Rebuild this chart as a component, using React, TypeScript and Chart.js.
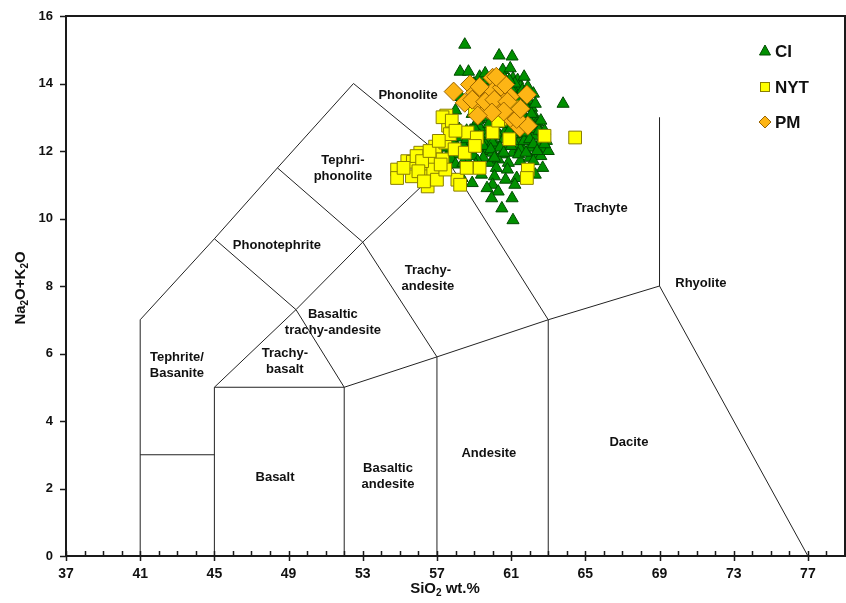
import React, { useEffect, useRef } from 'react';
import { Chart, registerables } from 'chart.js';

Chart.register(...registerables);

// ---- axis definitions ----
const xMin = 37;
const xMax = 79;
const xMajorStep = 4;
const yMin = 0;
const yMax = 16;
const yStep = 2;

// ---- series (SiO2 wt.%, Na2O+K2O) ----
const ciPoints: [number, number][] = [
  [58.5, 15.15], [60.35, 14.83], [61.05, 14.8], [58.25, 14.35], [58.7, 14.35], [59.3, 14.2],
  [60.55, 14.4], [60.95, 14.45], [61.1, 14.15], [61.35, 14.1], [61.5, 13.9], [62.0, 13.45],
  [62.1, 13.28], [62.3, 13.0], [62.4, 12.85], [60.8, 13.9], [60.65, 14.15], [63.8, 13.4],
  [59.6, 14.3], [59.9, 14.05], [60.2, 13.95], [61.2, 13.75], [61.6, 13.6], [61.8, 13.3],
  [61.4, 13.4], [60.9, 13.2], [61.7, 13.05], [62.0, 12.9], [59.0, 14.0], [58.9, 13.1],
  [59.3, 12.95], [59.5, 13.0], [58.6, 12.6], [61.9, 12.6], [62.5, 12.55], [62.6, 12.3],
  [57.9, 12.3], [58.1, 12.1], [58.3, 12.4], [58.5, 12.2], [58.7, 12.0], [58.9, 12.3],
  [59.1, 12.5], [59.2, 12.1], [59.4, 12.3], [59.6, 12.6], [59.7, 12.0], [59.9, 12.35],
  [60.1, 12.7], [60.2, 12.15], [60.4, 12.45], [60.5, 11.9], [60.7, 12.6], [60.8, 12.2],
  [61.0, 12.45], [61.1, 11.95], [61.3, 12.7], [61.4, 12.25], [61.6, 12.5], [61.7, 12.0],
  [61.9, 12.35], [62.0, 12.1], [62.2, 12.45], [62.3, 11.9], [62.5, 12.2], [62.7, 12.05],
  [62.9, 12.3], [62.6, 11.85], [58.2, 11.9], [58.6, 11.75], [58.8, 12.6], [59.0, 11.85],
  [59.3, 12.7], [59.5, 11.8], [59.8, 12.8], [60.0, 11.95], [60.3, 12.9], [60.6, 12.35],
  [60.9, 12.85], [61.2, 12.15], [61.5, 12.85], [61.8, 12.7], [62.1, 12.65], [62.4, 12.75],
  [62.8, 12.6], [63.0, 12.0], [57.6, 11.9], [57.4, 12.1], [57.2, 11.85], [57.0, 12.0],
  [56.8, 11.8], [57.8, 11.75], [57.5, 12.3], [57.7, 12.5], [58.0, 11.6], [58.4, 11.65],
  [59.2, 11.7], [59.9, 11.65], [60.3, 11.75], [61.5, 11.7], [62.0, 11.8], [60.85, 11.65],
  [60.2, 11.5], [60.8, 11.45], [60.1, 11.25], [61.3, 11.2], [60.7, 11.15], [62.7, 11.5],
  [62.3, 11.3], [60.0, 11.0], [60.3, 10.8], [61.2, 11.0], [59.95, 10.6], [61.05, 10.6],
  [60.5, 10.3], [61.1, 9.95], [58.9, 11.05], [58.35, 11.2], [59.4, 11.3], [59.7, 10.9],
  [59.8, 13.5], [60.3, 13.6], [60.7, 13.4], [61.0, 13.0], [59.4, 13.6], [60.5, 13.1],
  [61.3, 13.1], [58.3, 13.6], [58.0, 13.2],
  [59.0, 12.7], [59.2, 12.9], [59.6, 12.2], [59.8, 12.5], [60.0, 12.25], [60.2, 12.55],
  [60.4, 12.1], [60.6, 12.8], [60.9, 12.6], [61.1, 12.3], [61.3, 12.55], [61.5, 12.05],
  [61.7, 12.3], [61.8, 12.55], [62.0, 12.35], [62.2, 12.2], [62.4, 12.0], [62.5, 12.6],
  [62.1, 13.1], [61.9, 13.5], [61.6, 13.8], [61.3, 13.55], [61.0, 13.85], [60.6, 13.7],
  [61.2, 14.0], [61.5, 13.2], [61.9, 13.9], [60.4, 14.05], [59.7, 14.1], [60.9, 14.1],
  [58.8, 12.05], [59.3, 12.45], [59.5, 12.15], [59.9, 12.05], [60.1, 11.8], [60.6, 11.95],
  [61.0, 12.15], [61.4, 11.9], [61.8, 11.95], [62.8, 12.2], [62.2, 11.7], [59.1, 11.6],
  [58.6, 12.35], [58.2, 12.65], [57.9, 12.0], [62.6, 12.9], [62.3, 13.4], [61.7, 14.2],
  [62.2, 13.7],
];

const nytPoints: [number, number][] = [
  [54.85, 11.45], [54.85, 11.2], [55.4, 11.7], [55.7, 11.68], [55.65, 11.25], [56.1, 11.95],
  [56.35, 11.5], [56.45, 11.25], [56.5, 10.95], [56.8, 11.75], [56.8, 11.45], [56.9, 12.13],
  [57.0, 11.15], [57.3, 11.75], [57.45, 12.25], [57.5, 13.05], [57.6, 12.75], [57.7, 12.5],
  [57.3, 13.0], [57.95, 12.05], [58.1, 11.15], [58.25, 11.0], [58.5, 11.95], [58.65, 12.55],
  [59.15, 12.4], [59.05, 12.15], [60.0, 12.55], [60.9, 12.35], [60.4, 12.95], [59.3, 11.5],
  [57.45, 11.45], [61.9, 11.45], [61.85, 11.2], [62.8, 12.45], [64.45, 12.4], [59.05, 13.2],
  [60.3, 12.9], [61.1, 13.3], [55.9, 11.85], [56.2, 11.7], [56.6, 12.0], [57.1, 12.3],
  [56.0, 11.4], [55.2, 11.5], [57.8, 12.9], [58.0, 12.6], [56.3, 11.1], [57.2, 11.6],
  [58.6, 11.5],
];

const pmPoints: [number, number][] = [
  [57.9, 13.76], [58.78, 13.97], [58.5, 13.43], [59.3, 13.37], [60.0, 14.17], [59.6, 13.67],
  [60.0, 13.76], [60.5, 13.88], [60.94, 13.61], [59.75, 13.22], [60.4, 13.28], [61.85, 13.67],
  [61.1, 12.9], [61.47, 12.7], [61.9, 12.75], [60.67, 13.97], [60.2, 14.2], [59.05, 13.73],
  [58.9, 13.52], [59.3, 13.9], [59.6, 13.46], [60.1, 13.52], [60.8, 13.46], [60.6, 13.17],
  [59.96, 13.14], [61.3, 12.95], [59.2, 13.05], [61.5, 13.25],
];

const seriesNames = ['CI', 'NYT', 'PM'];

// ---- TAS field boundaries (SiO2, Na2O+K2O) ----
const boundaries: [number, number][][] = [
  [[41, 0], [41, 7], [45, 9.4], [48.4, 11.5], [52.5, 14], [57.6, 11.7], [63, 7], [63, 0]],
  [[41, 3], [45, 3]],
  [[45, 0], [45, 5], [52, 5], [57, 5.9], [63, 7], [69, 8], [77, 0]],
  [[69, 8], [69, 13]],
  [[52, 0], [52, 5]],
  [[57, 0], [57, 5.9]],
  [[45, 5], [49.4, 7.3], [52, 5]],
  [[45, 9.4], [49.4, 7.3], [53, 9.3], [57.6, 11.7]],
  [[48.4, 11.5], [53, 9.3], [57, 5.9]],
];

// ---- field names and their anchor (SiO2, Na2O+K2O) ----
const fieldNames = [
  'Phonolite', 'Tephri-\nphonolite', 'Phonotephrite', 'Trachy-\nandesite', 'Trachyte',
  'Rhyolite', 'Basaltic\ntrachy-andesite', 'Tephrite/\nBasanite', 'Trachy-\nbasalt',
  'Basalt', 'Basaltic\nandesite', 'Andesite', 'Dacite',
];
const fieldSiO2 = [55.44, 51.93, 48.37, 56.51, 65.84, 71.23, 51.39, 42.98, 48.8, 48.27, 54.36, 59.8, 67.35];
const fieldAlk = [13.64, 11.48, 9.19, 8.23, 10.29, 8.07, 6.91, 5.66, 5.76, 2.34, 2.35, 3.05, 3.38];

const FONT = "'Liberation Sans', Arial, Helvetica, sans-serif";

const ciFill = '#009000';
const ciBorder = '#004a00';
const nytFill = '#FFFF00';
const nytBorder = '#8a7f00';
const pmFill = '#FDB515';
const pmBorder = '#9a6400';

function drawSubText(ctx: CanvasRenderingContext2D, parts: [string, boolean][], size: number) {
  let x = 0;
  for (const [t, sub] of parts) {
    ctx.font = `bold ${sub ? Math.round(size * 0.65) : size}px ${FONT}`;
    ctx.fillText(t, x, sub ? size * 0.3 : 0);
    x += ctx.measureText(t).width;
  }
  return x;
}
function measureSub(ctx: CanvasRenderingContext2D, parts: [string, boolean][], size: number) {
  let w = 0;
  for (const [t, sub] of parts) {
    ctx.font = `bold ${sub ? Math.round(size * 0.65) : size}px ${FONT}`;
    w += ctx.measureText(t).width;
  }
  return w;
}

const tasPlugin = {
  id: 'tas',
  beforeDatasetsDraw(chart: any) {
    const { ctx, chartArea, scales } = chart;
    const xs = scales.x;
    const ys = scales.y;
    ctx.save();
    ctx.strokeStyle = '#222';
    ctx.lineWidth = 1;
    for (const poly of boundaries) {
      ctx.beginPath();
      poly.forEach(([sx, sy], i) => {
        const px = xs.getPixelForValue(sx);
        const py = ys.getPixelForValue(sy);
        if (i === 0) ctx.moveTo(px, py);
        else ctx.lineTo(px, py);
      });
      ctx.stroke();
    }
    ctx.fillStyle = '#111';
    ctx.font = `bold 13px ${FONT}`;
    ctx.textAlign = 'center';
    ctx.textBaseline = 'middle';
    fieldNames.forEach((name, i) => {
      const lines = name.split('\n');
      const cx = xs.getPixelForValue(fieldSiO2[i]);
      const cy = ys.getPixelForValue(fieldAlk[i]);
      const lh = 16;
      lines.forEach((ln, j) => {
        ctx.fillText(ln, cx, cy + (j - (lines.length - 1) / 2) * lh);
      });
    });
    ctx.strokeStyle = '#1a1a1a';
    ctx.lineWidth = 2;
    ctx.strokeRect(chartArea.left, chartArea.top, chartArea.right - chartArea.left, chartArea.bottom - chartArea.top);
    ctx.lineWidth = 1.5;
    ctx.beginPath();
    for (let v = xMin; v <= xMax; v++) {
      const px = Math.round(xs.getPixelForValue(v)) + 0.5;
      const major = (v - xMin) % xMajorStep === 0;
      ctx.moveTo(px, chartArea.bottom + (major ? 5 : 0));
      ctx.lineTo(px, chartArea.bottom - 5);
    }
    for (let v = yMin; v <= yMax; v += yStep) {
      const py = Math.round(ys.getPixelForValue(v)) + 0.5;
      ctx.moveTo(chartArea.left - 6, py);
      ctx.lineTo(chartArea.left, py);
    }
    ctx.stroke();
    ctx.restore();
  },
  afterDraw(chart: any) {
    const { ctx } = chart;
    ctx.save();
    ctx.fillStyle = '#111';
    ctx.textBaseline = 'middle';
    ctx.textAlign = 'left';
    const xParts: [string, boolean][] = [['SiO', false], ['2', true], [' wt.%', false]];
    const xw = measureSub(ctx, xParts, 15);
    ctx.save();
    ctx.translate(445 - xw / 2, 589);
    drawSubText(ctx, xParts, 15);
    ctx.restore();
    const yParts: [string, boolean][] = [['Na', false], ['2', true], ['O+K', false], ['2', true], ['O', false]];
    const yw = measureSub(ctx, yParts, 15);
    ctx.save();
    ctx.translate(21, 288 + yw / 2);
    ctx.rotate(-Math.PI / 2);
    drawSubText(ctx, yParts, 15);
    ctx.restore();

    const lx = 765;
    const rows = [51, 87, 122];
    ctx.lineWidth = 1;
    ctx.fillStyle = ciFill;
    ctx.strokeStyle = ciBorder;
    ctx.beginPath();
    ctx.moveTo(lx, rows[0] - 6);
    ctx.lineTo(lx + 5.5, rows[0] + 4);
    ctx.lineTo(lx - 5.5, rows[0] + 4);
    ctx.closePath();
    ctx.fill();
    ctx.stroke();
    ctx.fillStyle = nytFill;
    ctx.strokeStyle = nytBorder;
    ctx.fillRect(lx - 4.5, rows[1] - 4.5, 9, 9);
    ctx.strokeRect(lx - 4.5, rows[1] - 4.5, 9, 9);
    ctx.fillStyle = pmFill;
    ctx.strokeStyle = pmBorder;
    ctx.beginPath();
    ctx.moveTo(lx, rows[2] - 6);
    ctx.lineTo(lx + 6, rows[2]);
    ctx.lineTo(lx, rows[2] + 6);
    ctx.lineTo(lx - 6, rows[2]);
    ctx.closePath();
    ctx.fill();
    ctx.stroke();
    ctx.fillStyle = '#111';
    ctx.font = `bold 17px ${FONT}`;
    seriesNames.forEach((n, i) => ctx.fillText(n, lx + 10, rows[i] + 1));
    ctx.restore();
  },
};

export default function App() {
  const ref = useRef<HTMLCanvasElement | null>(null);
  useEffect(() => {
    if (!ref.current) return;
    const toXY = (pts: [number, number][]) => pts.map(([x, y]) => ({ x, y }));
    const chart = new Chart(ref.current, {
      type: 'scatter',
      data: {
        datasets: [
          {
            label: seriesNames[0],
            data: toXY(ciPoints),
            order: 3,
            pointStyle: 'triangle',
            pointRadius: 7,
            backgroundColor: ciFill,
            borderColor: ciBorder,
            borderWidth: 1,
          },
          {
            label: seriesNames[1],
            data: toXY(nytPoints),
            order: 2,
            pointStyle: 'rect',
            pointRadius: 9,
            backgroundColor: nytFill,
            borderColor: nytBorder,
            borderWidth: 1,
          },
          {
            label: seriesNames[2],
            data: toXY(pmPoints),
            order: 1,
            pointStyle: 'rectRot',
            pointRadius: 9.5,
            backgroundColor: pmFill,
            borderColor: pmBorder,
            borderWidth: 1,
          },
        ],
      },
      options: {
        responsive: false,
        animation: false,
        events: [],
        layout: { autoPadding: false, padding: { top: 16, right: 1, left: 0, bottom: 0 } },
        plugins: { legend: { display: false }, tooltip: { enabled: false }, title: { display: false } },
        scales: {
          x: {
            type: 'linear',
            min: xMin,
            max: xMax,
            grid: { display: false, drawTicks: false },
            border: { display: false },
            afterFit: (s: any) => { s.height = 47; s.paddingLeft = 0; s.paddingRight = 0; },
            ticks: {
              stepSize: 1,
              autoSkip: false,
              maxRotation: 0,
              padding: 10,
              color: '#111',
              font: { family: FONT, size: 14, weight: 'bold' },
              callback: (v: any) => ((Number(v) - xMin) % xMajorStep === 0 ? String(v) : ''),
            },
          },
          y: {
            type: 'linear',
            min: yMin,
            max: yMax,
            grid: { display: false, drawTicks: false },
            border: { display: false },
            afterFit: (s: any) => { s.width = 66; s.paddingTop = 0; s.paddingBottom = 0; },
            ticks: {
              stepSize: yStep,
              padding: 13,
              color: '#111',
              font: { family: FONT, size: 13, weight: 'bold' },
            },
          },
        },
      },
      plugins: [tasPlugin],
    } as any);
    return () => chart.destroy();
  }, []);
  return (
    <div style={{ position: 'fixed', left: 0, top: 0, width: 846, height: 603, background: '#fff' }}>
      <canvas ref={ref} width={846} height={603} style={{ width: 846, height: 603, display: 'block' }} />
    </div>
  );
}
